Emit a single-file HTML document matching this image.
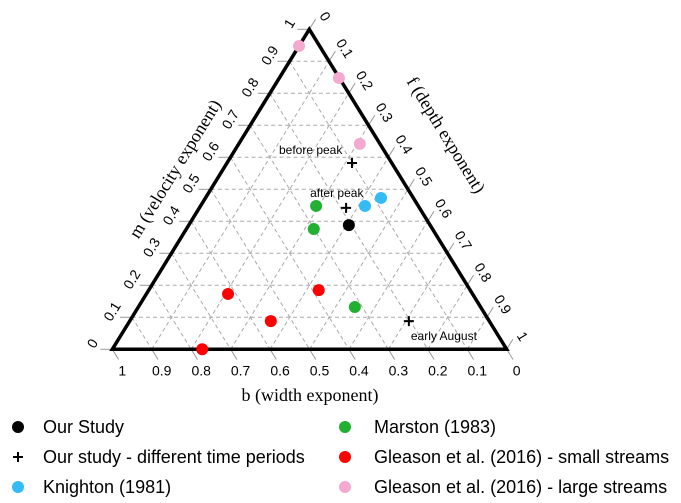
<!DOCTYPE html>
<html><head><meta charset="utf-8"><style>
html,body{margin:0;padding:0;background:#fff;}
svg{display:block;}
</style></head><body>
<svg id="chart" width="681" height="503" xmlns="http://www.w3.org/2000/svg">
<g id="grid"></g>
<g id="ticks"></g>
<polygon points="309.3,29.3 112.3,349.3 506.7,349.3" fill="none" stroke="#000" stroke-width="3.5" stroke-linejoin="miter"/>
<g id="marks"></g>
<text x="310" y="401" text-anchor="middle" font-family="Liberation Serif, serif" font-size="18">b (width exponent)</text>
<text transform="translate(180,172) rotate(-58.4)" text-anchor="middle" font-family="Liberation Serif, serif" font-size="18">m (velocity exponent)</text>
<text transform="translate(441,138) rotate(58.4)" text-anchor="middle" font-family="Liberation Serif, serif" font-size="18">f (depth exponent)</text>
<g id="legend" font-family="Liberation Sans, Arial, sans-serif" font-size="18"></g>
</svg>
<script>
// data
const ticks = [0,0.1,0.2,0.3,0.4,0.5,0.6,0.7,0.8,0.9,1];
const tickLabels = ["0","0.1","0.2","0.3","0.4","0.5","0.6","0.7","0.8","0.9","1"];
const ourM = [0.388], ourF = [0.406];
const periodNames = ["before peak","after peak","early August"];
const periodM = [0.582,0.442,0.088], periodF = [0.317,0.372,0.708];
const knightonM = [0.473,0.448], knightonF = [0.445,0.417];
const marstonM = [0.448,0.376,0.132], marstonF = [0.293,0.323,0.549];
const smallM = [0.173,0.185,0.088,0.0], smallF = [0.207,0.431,0.358,0.228];
const largeM = [0.948,0.848,0.642], largeF = [0.0,0.151,0.307];
const legendNames = ["Our Study","Our study - different time periods","Knighton (1981)","Marston (1983)","Gleason et al. (2016) - small streams","Gleason et al. (2016) - large streams"];

const T=[309.3,29.3], BL=[112.3,349.3], BR=[506.7,349.3];
function pos(m,f){const b=1-m-f;return [b*BL[0]+m*T[0]+f*BR[0], b*BL[1]+m*T[1]+f*BR[1]];}
const NS="http://www.w3.org/2000/svg";
function mk(tag,attrs,parent){const e=document.createElementNS(NS,tag);for(const k in attrs)e.setAttribute(k,attrs[k]);parent.appendChild(e);return e;}
const grid=document.getElementById('grid'), tk=document.getElementById('ticks'), marks=document.getElementById('marks'), lg=document.getElementById('legend');

ticks.forEach((v,i)=>{
  if(v>0&&v<1){
    let a=pos(v,0),b=pos(v,1-v);
    let l=mk('line',{x1:a[0],y1:a[1],x2:b[0],y2:b[1],stroke:'#aaa','stroke-width':1,'stroke-dasharray':'4,3'},grid);
    
    a=pos(0,v);b=pos(1-v,v);
    l=mk('line',{x1:a[0],y1:a[1],x2:b[0],y2:b[1],stroke:'#aaa','stroke-width':1,'stroke-dasharray':'4,3'},grid);
    
    a=pos(1-v,0);b=pos(0,1-v);
    l=mk('line',{x1:a[0],y1:a[1],x2:b[0],y2:b[1],stroke:'#aaa','stroke-width':1,'stroke-dasharray':'4,3'},grid);
    
  }
  // m ticks (left edge, f=0)
  let p=pos(v,0);
  let t=mk('line',{x1:p[0],y1:p[1],x2:p[0]-12,y2:p[1],stroke:'#999','stroke-width':1},tk);
  
  let tx=mk('text',{transform:`translate(${p[0]-20},${p[1]-6}) rotate(-58.4)`,'text-anchor':'middle','dominant-baseline':'central','font-family':'Liberation Sans, sans-serif','font-size':14},tk);
  tx.textContent=tickLabels[i];
  
  // f ticks (right edge, b=0)
  p=pos(1-v,v);
  t=mk('line',{x1:p[0],y1:p[1],x2:p[0]+6.3,y2:p[1]-10.2,stroke:'#999','stroke-width':1},tk);
  
  tx=mk('text',{transform:`translate(${p[0]+16},${p[1]-13}) rotate(58.4)`,'text-anchor':'middle','dominant-baseline':'central','font-family':'Liberation Sans, sans-serif','font-size':14},tk);
  tx.textContent=tickLabels[i];
  
  // b ticks (bottom edge, m=0)
  const bx=pos(0,1-v);
  t=mk('line',{x1:bx[0],y1:bx[1],x2:bx[0]+6.3,y2:bx[1]+10.2,stroke:'#999','stroke-width':1},tk);
  
  tx=mk('text',{x:bx[0]+10,y:bx[1]+26,'text-anchor':'middle','font-family':'Liberation Sans, sans-serif','font-size':14},tk);
  tx.textContent=tickLabels[i];
  
});

function dots(M,F,color,name){
  M.forEach((m,i)=>{const p=pos(m,F[i]);
    const c=mk('circle',{cx:p[0],cy:p[1],r:6,fill:color},marks);
    });
}
function plus(x,y,parent){
  return mk('path',{d:`M${x-5},${y}H${x+5}M${x},${y-5}V${y+5}`,stroke:'#000','stroke-width':2},parent);
}
dots(largeM,largeF,'#f4a9d0','large-stream-point');
dots(smallM,smallF,'#ff0000','small-stream-point');
dots(marstonM,marstonF,'#22b033','marston-point');
dots(knightonM,knightonF,'#33bbf5','knighton-point');
dots(ourM,ourF,'#000','our-study-point');
const lblOff=[[-73,-9],[-36,-11],[2,19]];
periodM.forEach((m,i)=>{const p=pos(m,periodF[i]);
  const g=plus(p[0],p[1],marks);
  
  const t=mk('text',{x:p[0]+lblOff[i][0],y:p[1]+lblOff[i][1],'font-family':'Liberation Sans, sans-serif','font-size':12},marks);
  t.textContent=periodNames[i];
  
});

const legColors=['#000',null,'#33bbf5','#22b033','#ff0000','#f4a9d0'];
legendNames.forEach((n,i)=>{
  const col=i<3?0:1,row=i%3;
  const mx=col?345:18, tx=col?374:43, y=427+row*30;
  if(legColors[i]){const c=mk('circle',{cx:mx,cy:y,r:6,fill:legColors[i]},lg);
    }
  else{const g=plus(mx,y,lg);}
  const t=mk('text',{x:tx,y:y+6},lg);t.textContent=n;
  
});
</script>
</body></html>
